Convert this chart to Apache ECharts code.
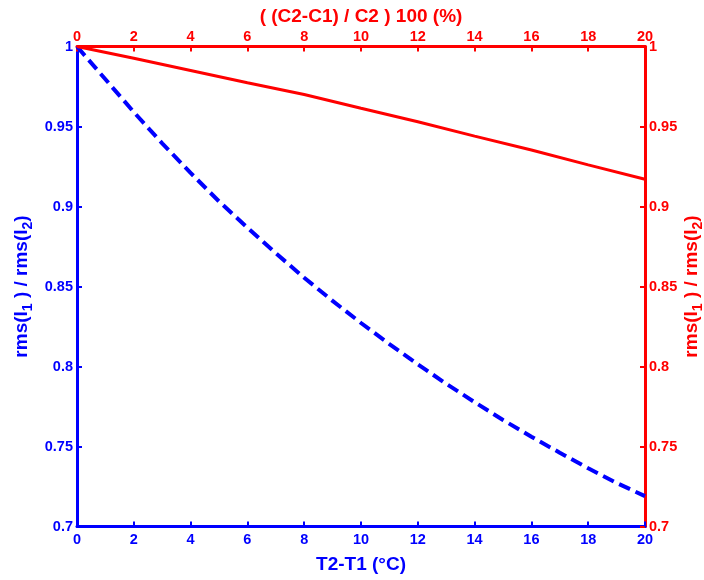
<!DOCTYPE html>
<html>
<head>
<meta charset="utf-8">
<script src="https://cdn.jsdelivr.net/npm/echarts@6/dist/echarts.min.js"></script>
<style>
html,body{margin:0;padding:0;background:#fff;}
#c{width:704px;height:580px;}
</style>
</head>
<body>
<div id="c"></div>
<script>
// Bottom axis: T2-T1 (°C), blue dashed curve
var tempDiff = [0,1,2,3,4,5,6,7,8,9,10,11,12,13,14,15,16,17,18,19,20];
var rmsRatioTemp = [1.000,0.9795,0.959,0.9395,0.921,0.9032,0.8868,0.8708,0.8555,0.841,0.8272,0.814,0.8014,0.7892,0.7777,0.7666,0.7561,0.7461,0.7364,0.7272,0.719];
// Top axis: ((C2-C1)/C2) 100 (%), red solid line
var concDiff = [0,2,4,6,8,10,12,14,16,18,20];
var rmsRatioConc = [1.000,0.9926,0.985,0.9774,0.970,0.9614,0.953,0.944,0.9353,0.926,0.917];

var xTicks = {min:0, max:20, interval:2};
var yTicks = {min:0.7, max:1, interval:0.05};

var BLUE = '#0000ff', RED = '#ff0000';
var FONT = 'Liberation Sans';

function pairs(xs, ys){ return xs.map(function(x,i){ return [x, ys[i]]; }); }

function axisStyle(color, margin){
  return {
    nameMoveOverlap:false,
    axisLine:{show:true, onZero:false, lineStyle:{color:color, width:3}},
    axisTick:{show:true, inside:true, length:5, lineStyle:{color:color, width:2}},
    axisLabel:{color:color, fontWeight:'bold', fontSize:14.5, fontFamily:FONT, margin:margin},
    splitLine:{show:false},
    nameTextStyle:{color:color, fontWeight:'bold', fontSize:19, fontFamily:FONT,
      rich:{
        s:{color:color, fontWeight:'bold', fontSize:14, fontFamily:FONT, lineHeight:12, verticalAlign:'bottom'},
        n:{color:color, fontWeight:'bold', fontSize:19, fontFamily:FONT, lineHeight:26}
      }
    }
  };
}

function merge(a,b){ for (var k in b) a[k]=b[k]; return a; }

var yName = '{n|rms(I}{s|1}{n| ) / rms(I}{s|2}{n|)}';

var chart = echarts.init(document.getElementById('c'), null, {renderer:'canvas'});
chart.setOption({
  animation:false,
  backgroundColor:'#fff',
  grid:{left:77, right:59, top:46.5, bottom:53.5, containLabel:false, outerBoundsMode:'none'},
  xAxis:[
    merge({type:'value', position:'bottom', min:xTicks.min, max:xTicks.max, interval:xTicks.interval,
      name:'T2-T1 (°C)', nameLocation:'middle', nameGap:29}, axisStyle(BLUE, 6)),
    merge({type:'value', position:'top', min:xTicks.min, max:xTicks.max, interval:xTicks.interval,
      name:'( (C2-C1) / C2 ) 100 (%)', nameLocation:'middle', nameGap:20}, axisStyle(RED, 2))
  ],
  yAxis:[
    merge({type:'value', position:'left', min:yTicks.min, max:yTicks.max, interval:yTicks.interval,
      name:yName, nameLocation:'middle', nameRotate:90, nameGap:42}, axisStyle(BLUE, 4)),
    merge({type:'value', position:'right', min:yTicks.min, max:yTicks.max, interval:yTicks.interval,
      name:yName, nameLocation:'middle', nameRotate:90, nameGap:34}, axisStyle(RED, 4))
  ],
  series:[
    {type:'line', xAxisIndex:0, yAxisIndex:0, data:pairs(tempDiff, rmsRatioTemp),
      showSymbol:false, symbol:'none', lineStyle:{color:BLUE, width:4, type:[12,6]}, z:3},
    {type:'line', xAxisIndex:1, yAxisIndex:1, data:pairs(concDiff, rmsRatioConc),
      showSymbol:false, symbol:'none', lineStyle:{color:RED, width:3, type:'solid'}, z:3}
  ]
});
</script>
</body>
</html>
